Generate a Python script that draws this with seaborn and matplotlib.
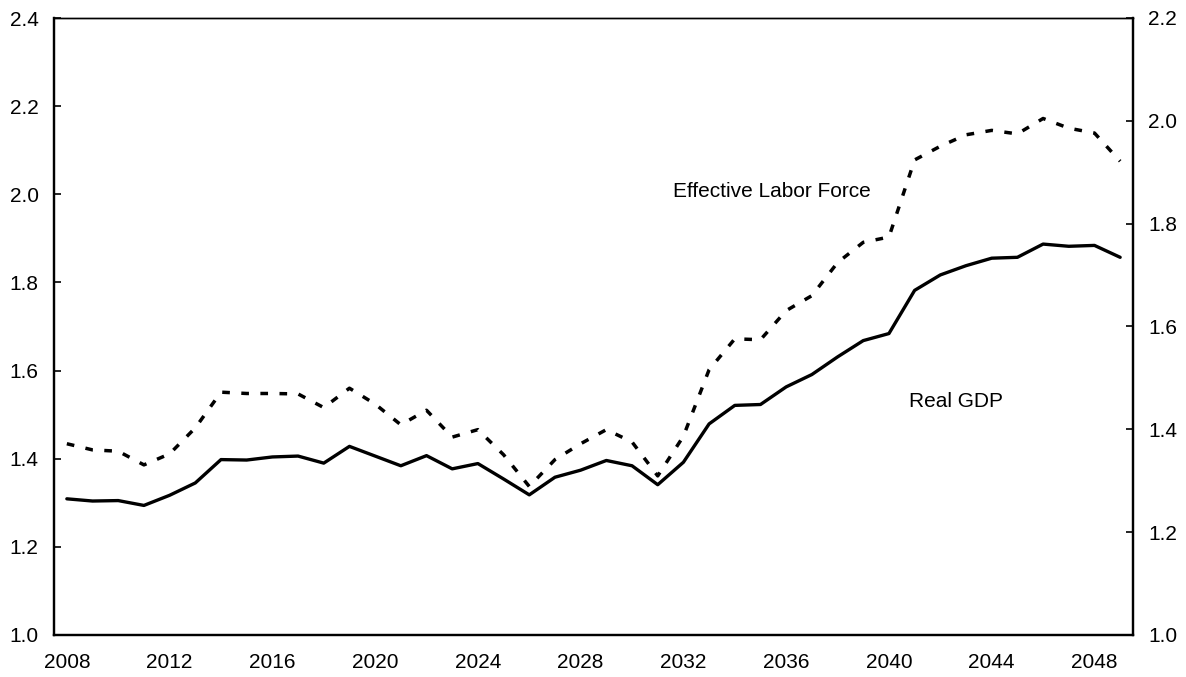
import numpy as np
import pandas as pd
import matplotlib
matplotlib.use("Agg")
import matplotlib.pyplot as plt
import seaborn as sns

# ── Data ───────────────────────────────────────────────────────────────────────
YEARS = list(range(2008, 2050))

REAL_GDP = [
    1.309, 1.304, 1.305, 1.294, 1.317, 1.345, 1.398, 1.397, 1.404, 1.406,
    1.390, 1.428, 1.406, 1.384, 1.407, 1.377, 1.389, 1.354, 1.318, 1.358,
    1.374, 1.396, 1.384, 1.341, 1.392, 1.479, 1.521, 1.523, 1.563, 1.591,
    1.631, 1.668, 1.684, 1.782, 1.817, 1.838, 1.855, 1.857, 1.887, 1.882,
    1.884, 1.857,
]

LABOR_FORCE = [
    1.434, 1.420, 1.417, 1.386, 1.411, 1.470, 1.551, 1.548, 1.548, 1.547,
    1.516, 1.560, 1.524, 1.477, 1.510, 1.449, 1.466, 1.409, 1.337, 1.398,
    1.434, 1.466, 1.438, 1.361, 1.451, 1.602, 1.672, 1.670, 1.736, 1.770,
    1.845, 1.891, 1.903, 2.078, 2.109, 2.135, 2.145, 2.137, 2.172, 2.150,
    2.139, 2.075,
]

LEFT_TICKS = [1.0, 1.2, 1.4, 1.6, 1.8, 2.0, 2.2, 2.4]
RIGHT_TICKS = [1.0, 1.2, 1.4, 1.6, 1.8, 2.0, 2.2]
YEAR_LABELS = list(range(2008, 2049, 4))

df = pd.DataFrame({"year": YEARS, "gdp": REAL_GDP, "labor": LABOR_FORCE})

# ── Style ──────────────────────────────────────────────────────────────────────
sns.set_style("white")
plt.rcParams["font.family"] = ["Liberation Sans", "DejaVu Sans"]
plt.rcParams.update({
    "text.color": "black",
    "xtick.color": "black",
    "ytick.color": "black",
    "xtick.labelcolor": "black",
    "ytick.labelcolor": "black",
})
FS = 15

fig = plt.figure(figsize=(11.86, 6.77), dpi=100)
ax = fig.add_axes([54 / 1186, 42 / 677, (1133 - 54) / 1186, (635 - 18) / 677])

sns.lineplot(data=df, x="year", y="labor", ax=ax, color="black",
             linewidth=2.5, linestyle=(0, (2.2, 3.3)), dash_capstyle="butt")
sns.lineplot(data=df, x="year", y="gdp", ax=ax, color="black", linewidth=2.4)

ax.set_xlim(YEARS[0] - 0.5, YEARS[-1] + 0.5)
ax.set_ylim(LEFT_TICKS[0], LEFT_TICKS[-1])
ax.set_yticks(LEFT_TICKS)
ax.set_yticklabels([f"{v:.1f}" for v in LEFT_TICKS], fontsize=FS)

# labels sit in the middle of each year, ticks on the year boundaries
ax.set_xticks(YEAR_LABELS)
ax.set_xticklabels([str(y) for y in YEAR_LABELS], fontsize=FS)
ax.set_xticks([y - 0.5 for y in YEAR_LABELS[1:]], minor=True)
ax.tick_params(axis="x", which="major", length=0, pad=13)
ax.tick_params(axis="x", which="minor", direction="in", length=5, width=1.2)
ax.tick_params(axis="y", direction="in", length=5, width=1.2, pad=11)
ax.set_xlabel("")
ax.set_ylabel("")

ax2 = ax.twinx()
ax2.set_ylim(RIGHT_TICKS[0], RIGHT_TICKS[-1])
ax2.set_yticks(RIGHT_TICKS)
ax2.set_yticklabels([f"{v:.1f}" for v in RIGHT_TICKS], fontsize=FS)
ax2.tick_params(axis="y", direction="in", length=5, width=1.2, pad=11)

for a in (ax, ax2):
    for side, sp in a.spines.items():
        sp.set_visible(True)
        sp.set_color("black")
        sp.set_linewidth(1.0 if side == "top" else 1.6)

ax.text(2031.6, 2.006, "Effective Labor Force", fontsize=FS, ha="left", va="center")
ax.text(2040.8, 1.529, "Real GDP", fontsize=FS, ha="left", va="center")

fig.savefig("out.png", dpi=100)
